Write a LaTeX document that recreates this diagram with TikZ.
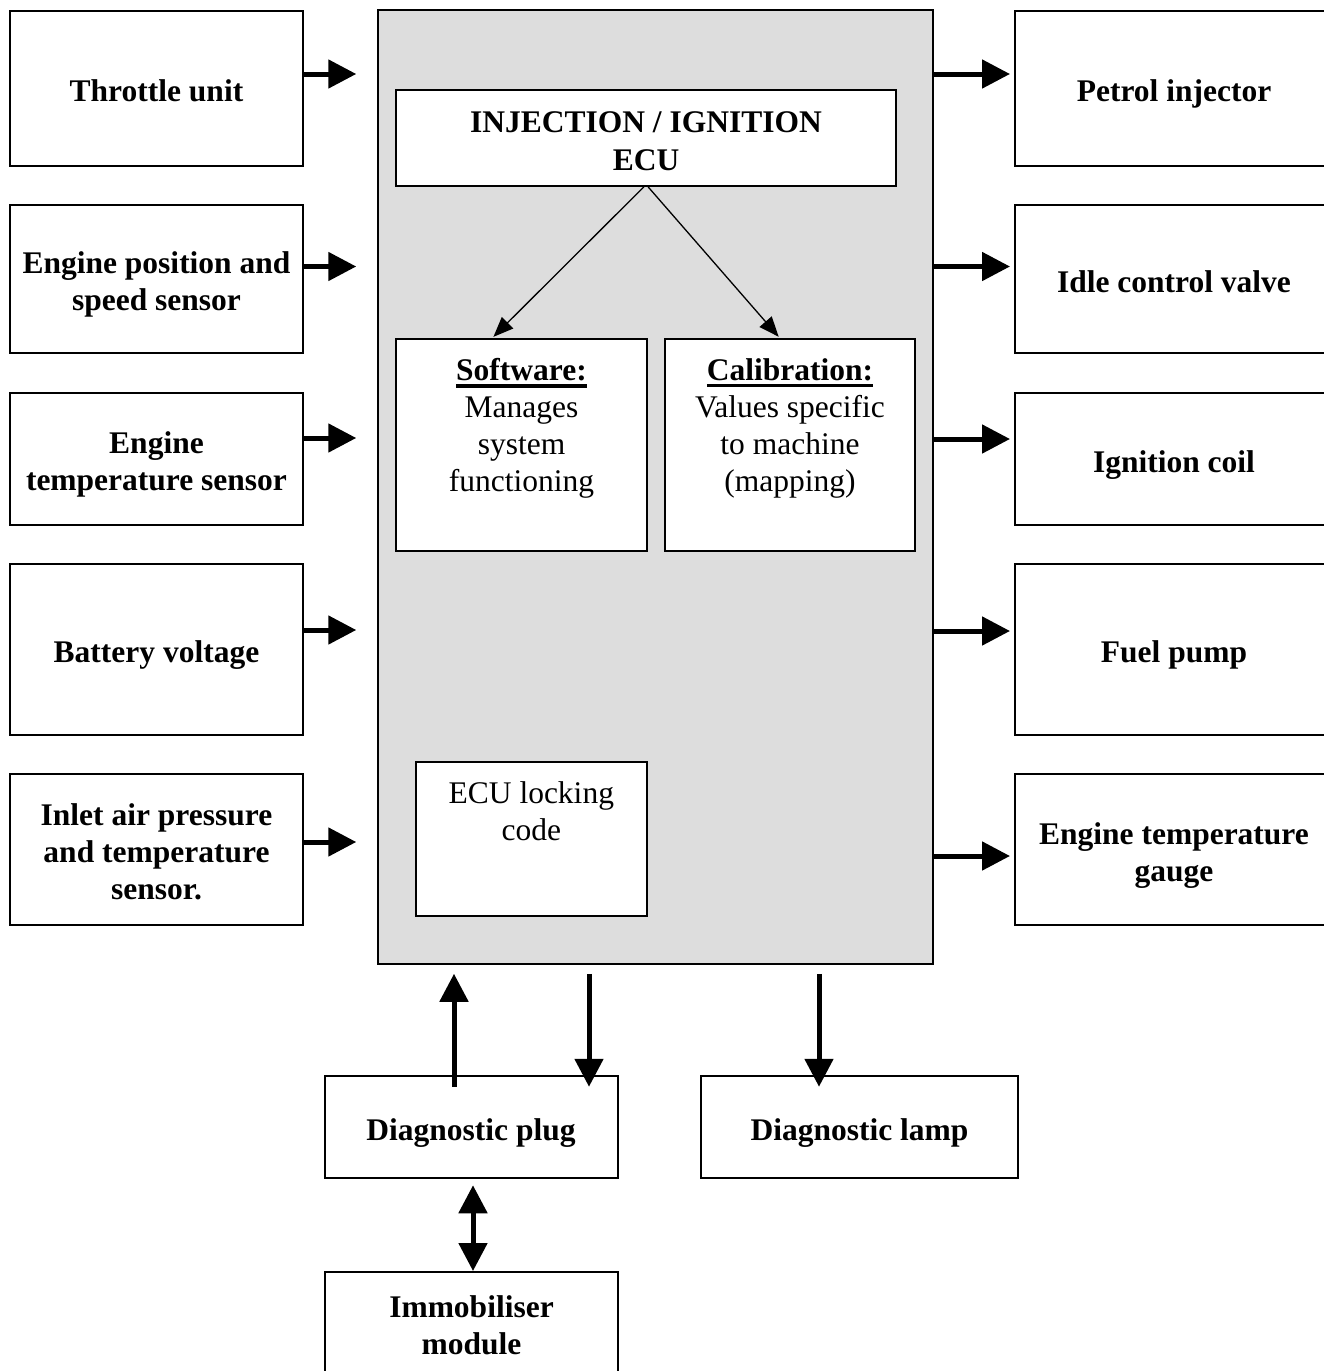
\documentclass[tikz,border=0pt]{standalone}
\usepackage{fontspec}
\setmainfont{Liberation Serif}
\usetikzlibrary{arrows.meta,calc}
\definecolor{ecugray}{RGB}{221,221,221}
\newsavebox\myulbox
\newcommand{\myul}[1]{\sbox\myulbox{#1}\rlap{\rule[-7.3pt]{\wd\myulbox}{3.2pt}}\usebox\myulbox}
\newcommand{\nodetop}{\rule{0pt}{33pt}}
\newcommand{\nodebot}{\rule[-7pt]{0pt}{7pt}}
\tikzset{
  outbox/.style={draw, line width=2pt, fill=white, inner sep=0pt, align=center, font=\fontsize{31.5}{37}\selectfont\bfseries},
  inbox/.style={draw, line width=1.5pt, fill=white, inner sep=0pt},
  txt/.style={inner sep=0pt, align=center, font=\fontsize{31.5}{37}\selectfont},
  bigarrow/.style={line width=5pt, -{Triangle[length=28pt,width=28pt]}},
  dblarrow/.style={line width=5pt, {Triangle[length=28pt,width=28pt]}-{Triangle[length=28pt,width=28pt]}},
  thinarrow/.style={line width=1.3pt, -{Triangle[length=20pt,width=16pt]}}
}
\begin{document}
\begin{tikzpicture}[x=1pt,y=-1pt]
\useasboundingbox (0,0) rectangle (1324,1371);

% ECU housing
\node[draw, line width=1.5pt, fill=ecugray, inner sep=0pt, minimum width=555pt, minimum height=954pt] (ecu) at (655.5,487) {};

% left input boxes
\node[outbox, minimum width=293pt, minimum height=155pt] (throttle) at (156.5,88.5) {\nodetop Throttle unit\nodebot};
\node[outbox, minimum width=293pt, minimum height=148pt] (engpos) at (156.5,279) {\nodetop Engine position and\\speed sensor\nodebot};
\node[outbox, minimum width=293pt, minimum height=132pt] (engtemp) at (156.5,459) {\nodetop Engine\\temperature sensor\nodebot};
\node[outbox, minimum width=293pt, minimum height=171pt] (battery) at (156.5,649.5) {\nodetop Battery voltage\nodebot};
\node[outbox, minimum width=293pt, minimum height=151pt] (inlet) at (156.5,849.5) {\nodetop Inlet air pressure\\and temperature\\sensor.\nodebot};

% right output boxes
\node[outbox, minimum width=318pt, minimum height=155pt] (petrol) at (1174,88.5) {\nodetop Petrol injector\nodebot};
\node[outbox, minimum width=318pt, minimum height=148pt] (idle) at (1174,279) {\nodetop Idle control valve\nodebot};
\node[outbox, minimum width=318pt, minimum height=132pt] (ignition) at (1174,459) {\nodetop Ignition coil\nodebot};
\node[outbox, minimum width=318pt, minimum height=171pt] (fuel) at (1174,649.5) {\nodetop Fuel pump\nodebot};
\node[outbox, minimum width=318pt, minimum height=151pt] (gauge) at (1174,849.5) {\nodetop Engine temperature\\gauge\nodebot};

% inner ECU boxes
\node[inbox, align=center, font=\fontsize{31.5}{38}\selectfont\bfseries, minimum width=500pt, minimum height=96pt] (inj) at (646,138) {\nodetop INJECTION / IGNITION\\ECU\nodebot};
\node[inbox, minimum width=251pt, minimum height=212pt] (software) at (521.5,445) {};
\node[txt, anchor=north] (softwaretxt) at (521.5,358) {\textbf{\myul{Software:}}\\Manages\\system\\functioning};
\node[inbox, minimum width=250pt, minimum height=212pt] (calib) at (790,445) {};
\node[txt, anchor=north] (calibtxt) at (790,358) {\textbf{\myul{Calibration:}}\\Values specific\\to machine\\(mapping)};
\node[inbox, minimum width=231pt, minimum height=154pt] (locking) at (531.3,839) {};
\node[txt, anchor=north] (lockingtxt) at (531.3,781.5) {ECU locking\\code};

% bottom boxes
\node[outbox, minimum width=293pt, minimum height=102.5pt] (diagplug) at (471,1127) {\nodetop Diagnostic plug\nodebot};
\node[outbox, minimum width=317pt, minimum height=102.5pt] (lamp) at (859.5,1127) {\nodetop Diagnostic lamp\nodebot};
\node[outbox, minimum width=293pt, minimum height=102pt] (immob) at (471.5,1323) {\nodetop Immobiliser\\module\nodebot};

% input arrows
\draw[bigarrow, shorten >=21pt] (throttle.east |- 0,74) -- (ecu.west |- 0,74);
\draw[bigarrow, shorten >=21pt] (engpos.east |- 0,266.5) -- (ecu.west |- 0,266.5);
\draw[bigarrow, shorten >=21pt] (engtemp.east |- 0,438) -- (ecu.west |- 0,438);
\draw[bigarrow, shorten >=21pt] (battery.east |- 0,630) -- (ecu.west |- 0,630);
\draw[bigarrow, shorten >=21pt] (inlet.east |- 0,842) -- (ecu.west |- 0,842);

% output arrows
\draw[bigarrow, shorten >=4pt] (ecu.east |- 0,74) -- (petrol.west |- 0,74);
\draw[bigarrow, shorten >=4pt] (ecu.east |- 0,266.5) -- (idle.west |- 0,266.5);
\draw[bigarrow, shorten >=4pt] (ecu.east |- 0,439) -- (ignition.west |- 0,439);
\draw[bigarrow, shorten >=4pt] (ecu.east |- 0,631) -- (fuel.west |- 0,631);
\draw[bigarrow, shorten >=4pt] (ecu.east |- 0,856) -- (gauge.west |- 0,856);

% internal arrows
\draw[thinarrow, shorten >=2pt] (inj.south -| 644,0) -- (software.north -| 492,0);
\draw[thinarrow, shorten >=2pt] (inj.south -| 648,0) -- (calib.north -| 780,0);

% bottom arrows
\draw[bigarrow, shorten >=9pt] ($(diagplug.north -| 454,0)+(0,12)$) -- (ecu.south -| 454,0);
\draw[bigarrow, shorten <=9pt] (ecu.south -| 589,0) -- ($(diagplug.north -| 589,0)+(0,12)$);
\draw[bigarrow, shorten <=9pt] (ecu.south -| 819,0) -- ($(lamp.north -| 819,0)+(0,12)$);
\draw[dblarrow, shorten <=6pt] (diagplug.south -| 473,0) -- (immob.north -| 473,0);
\end{tikzpicture}
\end{document}
